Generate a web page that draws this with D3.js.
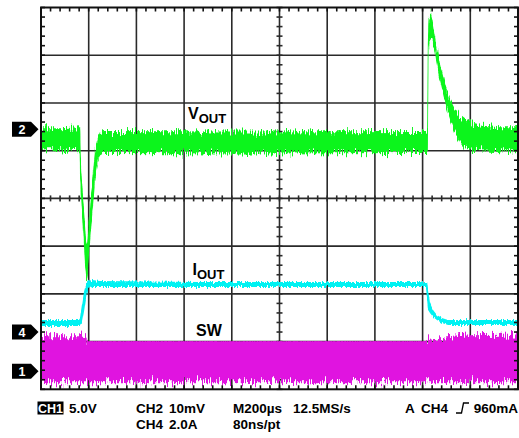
<!DOCTYPE html>
<html>
<head>
<meta charset="utf-8">
<script src="https://cdn.jsdelivr.net/npm/d3@7"></script>
<style>
  html, body { margin: 0; padding: 0; background: #fff; }
  svg { display: block; }
  text { font-family: "Liberation Sans", Arial, Helvetica, sans-serif; font-weight: bold; }
</style>
</head>
<body>
<svg id="scope" width="519" height="438"></svg>
<script>
// ---- Acquisition: 10 horizontal divisions at 200 µs/div, 8 vertical divisions ----
const timeRange = [0, 2000];      // µs across the screen
const timePerDiv = 200;           // µs
const minorPerDiv = 5;
const verticalDivs = 8;

// ---- CH2: output voltage, AC coupled (mV). Upper / lower edge of the noisy trace ----
const ch2Time  = [0, 80, 162, 164, 168, 172, 176, 180, 185, 189, 193, 197, 201, 206, 210, 214, 218, 222, 226, 231, 239, 247, 264, 800, 1614, 1619, 1622, 1625, 1629, 1635, 1641, 1648, 1656, 1665, 1673, 1686, 1698, 1715, 1736, 1757, 1778, 1799, 1841, 1925, 2000];
const ch2Upper = [0.2, 0.2, 0.4, 0.4, -7.5, -10.7, -13.8, -17.0, -20.1, -23.3, -24.3, -21.6, -19.1, -16.4, -13.8, -11.3, -9.0, -6.7, -4.8, -3.4, -1.7, -0.6, -0.4, -0.5, -0.4, -0.2, 18.7, 22.9, 23.7, 24.1, 22.9, 20.8, 18.2, 15.9, 13.8, 11.1, 8.6, 6.3, 4.2, 2.7, 1.9, 1.3, 0.8, 0.4, 0.4];
const ch2Lower = [-4.4, -4.4, -4.6, -10.7, -14.5, -17.6, -20.8, -24.3, -28.5, -31.2, -31.2, -29.1, -26.4, -23.7, -21.2, -18.4, -15.9, -13.4, -10.9, -8.6, -6.5, -5.5, -5.0, -5.1, -5.0, -5.0, -5.0, 16.6, 18.2, 18.7, 18.7, 17.2, 14.5, 12.2, 10.1, 7.3, 4.8, 2.1, -0.8, -2.7, -3.8, -4.2, -4.4, -4.6, -4.6];

// ---- CH4: output current (A) ----
const ch4Time  = [0, 159, 164, 172, 180, 189, 197, 214, 247, 667, 1614, 1619, 1623, 1631, 1644, 1660, 1681, 1707, 2000];
const ch4Upper = [0.50, 0.50, 0.59, 1.13, 1.68, 2.01, 2.14, 2.18, 2.14, 2.10, 2.10, 2.10, 1.76, 1.22, 0.92, 0.71, 0.59, 0.50, 0.50];
const ch4Lower = [0.25, 0.25, 0.25, 0.42, 0.84, 1.43, 1.80, 1.89, 1.89, 1.89, 1.89, 1.34, 0.92, 0.80, 0.63, 0.50, 0.38, 0.29, 0.29];

// ---- CH1: switch node (V) ----
const ch1Time  = [0, 159, 189, 197, 1614, 1631, 1702, 1799, 2000];
const ch1Upper = [3.67, 3.67, 3.56, 3.14, 3.14, 3.30, 3.56, 3.77, 3.83];
const ch1Lower = [-1.15, -1.15, -1.15, -1.15, -1.15, -1.15, -1.15, -1.15, -1.15];
// Heavy-load interval: the switch node top edge is clean here
const ch1QuietWindow = [197, 1614];

// ---- Channel settings ----
const channelIds       = [2, 4, 1];
const channelPerDiv    = [10, 2.0, 5.0];        // mV, A, V per division
const channelOffsetDiv = [1.45, -2.80, -3.62];  // ground reference, divisions from centre
const channelColors    = ["#0cf51c", "#00f2f2", "#e014e0"];

// ---- Readout text ----
const readoutRow1 = ["5.0V", "CH2", "10mV", "M200µs", "12.5MS/s", "A", "CH4", "960mA"];
const readoutRow2 = ["CH4", "2.0A", "80ns/pt"];

// ================= drawing =================
const svg = d3.select("#scope");
const plot = { left: 41, right: 518, top: 7.5, bottom: 389.3 };

const x = d3.scaleLinear().domain(timeRange).range([plot.left, plot.right]);
const yDiv = d3.scaleLinear().domain([-verticalDivs / 2, verticalDivs / 2]).range([plot.bottom, plot.top]);
const chScale = i => d3.scaleLinear()
  .domain([0, channelPerDiv[i]])
  .range([yDiv(channelOffsetDiv[i]), yDiv(channelOffsetDiv[i] + 1)]);
const y2 = chScale(0), y4 = chScale(1), y1 = chScale(2);

svg.append("rect").attr("width", 519).attr("height", 438).attr("fill", "#fff");

const defs = svg.append("defs");
defs.append("clipPath").attr("id", "plotClip")
  .append("rect")
  .attr("x", plot.left).attr("y", plot.top)
  .attr("width", plot.right - plot.left).attr("height", plot.bottom - plot.top);

// Jitter filter: displaces the trace edges vertically to give the sampled-noise fringe
function addNoise(id, scale, seed, fx, fy) {
  const f = defs.append("filter").attr("id", id)
    .attr("x", "-5%").attr("y", "-40%").attr("width", "110%").attr("height", "180%")
    .attr("color-interpolation-filters", "sRGB");
  f.append("feTurbulence").attr("type", "fractalNoise")
    .attr("baseFrequency", `${fx} ${fy}`).attr("numOctaves", 2).attr("seed", seed).attr("result", "noise");
  f.append("feColorMatrix").attr("in", "noise").attr("type", "matrix")
    .attr("values", "1 0 0 0 0  0 0 0 0 0.5  0 0 0 0 0  0 0 0 0 1").attr("result", "shift");
  f.append("feDisplacementMap").attr("in", "SourceGraphic").attr("in2", "shift")
    .attr("scale", scale).attr("xChannelSelector", "G").attr("yChannelSelector", "R");
}
addNoise("noiseCh2", 18, 3, 0.8, 0.07);
addNoise("noiseCh4", 6, 7, 0.8, 0.1);
addNoise("noiseCh1", 20, 11, 0.8, 0.07);

// ---- Graticule ----
const gridColor = "#2a2a2a";
const grid = svg.append("g").attr("stroke", gridColor).attr("stroke-width", 1.6);
const majorT = d3.range(timeRange[0] + timePerDiv, timeRange[1], timePerDiv);
const majorD = d3.range(-verticalDivs / 2 + 1, verticalDivs / 2);
grid.selectAll(".vg").data(majorT).join("line")
  .attr("x1", d => x(d)).attr("x2", d => x(d))
  .attr("y1", plot.top).attr("y2", plot.bottom);
grid.selectAll(".hg").data(majorD).join("line")
  .attr("x1", plot.left).attr("x2", plot.right)
  .attr("y1", d => yDiv(d)).attr("y2", d => yDiv(d));

const minorT = d3.range(timeRange[0], timeRange[1] + 1e-6, timePerDiv / minorPerDiv);
const minorD = d3.range(-verticalDivs / 2, verticalDivs / 2 + 1e-6, 1 / minorPerDiv);
const tCenter = (timeRange[0] + timeRange[1]) / 2;

// centre-axis ticks
grid.selectAll(".cth").data(minorT).join("line")
  .attr("x1", d => x(d)).attr("x2", d => x(d))
  .attr("y1", yDiv(0) - 3).attr("y2", yDiv(0) + 3);
grid.selectAll(".ctv").data(minorD).join("line")
  .attr("x1", x(tCenter) - 3).attr("x2", x(tCenter) + 3)
  .attr("y1", d => yDiv(d)).attr("y2", d => yDiv(d));

// ---- Traces ----
const traces = svg.append("g").attr("clip-path", "url(#plotClip)");

function band(time, up, lo, yScale) {
  const rows = time.map((t, i) => ({ t, u: up[i], l: lo[i] }));
  return d3.area().x(d => x(d.t)).y0(d => yScale(d.l)).y1(d => yScale(d.u))(rows);
}

// CH1 switch node
const swClip = defs.append("clipPath").attr("id", "swClip");
const quietTop = y1(d3.max(ch1Upper.filter((v, i) => ch1Time[i] >= ch1QuietWindow[0] && ch1Time[i] <= ch1QuietWindow[1])));
swClip.append("rect").attr("x", plot.left).attr("y", plot.top)
  .attr("width", x(ch1QuietWindow[0]) - plot.left).attr("height", plot.bottom - plot.top);
swClip.append("rect").attr("x", x(ch1QuietWindow[0])).attr("y", quietTop)
  .attr("width", x(ch1QuietWindow[1]) - x(ch1QuietWindow[0])).attr("height", plot.bottom - quietTop);
swClip.append("rect").attr("x", x(ch1QuietWindow[1])).attr("y", plot.top)
  .attr("width", plot.right - x(ch1QuietWindow[1])).attr("height", plot.bottom - plot.top);

const quietIdx = ch1Time.map((t, i) => i).filter(i => ch1Time[i] >= ch1QuietWindow[0] && ch1Time[i] <= ch1QuietWindow[1]);
traces.append("path")
  .attr("d", band(quietIdx.map(i => ch1Time[i]), quietIdx.map(i => ch1Upper[i]),
                  quietIdx.map(i => (ch1Upper[i] + ch1Lower[i]) / 2), y1))
  .attr("fill", channelColors[2]);
traces.append("g").attr("clip-path", "url(#swClip)")
  .append("path")
  .attr("d", band(ch1Time, ch1Upper, ch1Lower, y1))
  .attr("fill", channelColors[2])
  .attr("filter", "url(#noiseCh1)");

// CH4 output current
traces.append("path")
  .attr("d", band(ch4Time, ch4Upper, ch4Lower, y4))
  .attr("fill", channelColors[1])
  .attr("filter", "url(#noiseCh4)");

// CH2 output voltage
traces.append("path")
  .attr("d", band(ch2Time, ch2Upper, ch2Lower, y2))
  .attr("fill", channelColors[0])
  .attr("filter", "url(#noiseCh2)");

// ---- Border and edge ticks ----
const edge = svg.append("g").attr("stroke", "#111").attr("stroke-width", 1.6);
edge.append("rect")
  .attr("x", plot.left).attr("y", plot.top)
  .attr("width", plot.right - plot.left).attr("height", plot.bottom - plot.top)
  .attr("fill", "none").attr("stroke-width", 2);
edge.selectAll(".tt").data(minorT).join("line")
  .attr("x1", d => x(d)).attr("x2", d => x(d)).attr("y1", plot.top).attr("y2", plot.top + 4);
edge.selectAll(".tb").data(minorT).join("line")
  .attr("x1", d => x(d)).attr("x2", d => x(d)).attr("y1", plot.bottom).attr("y2", plot.bottom - 4);
edge.selectAll(".tl").data(minorD).join("line")
  .attr("x1", plot.left).attr("x2", plot.left + 4).attr("y1", d => yDiv(d)).attr("y2", d => yDiv(d));
edge.selectAll(".tr").data(minorD).join("line")
  .attr("x1", plot.right).attr("x2", plot.right - 4).attr("y1", d => yDiv(d)).attr("y2", d => yDiv(d));

// ---- Trace names ----
function subLabel(x0, yBase, main, sub) {
  const t = svg.append("text").attr("x", x0).attr("y", yBase).attr("font-size", 16).attr("fill", "#000");
  t.append("tspan").text(main);
  if (sub) t.append("tspan").attr("font-size", 13).attr("dy", 4).text(sub);
}
subLabel(188, 119, "V", "OUT");
subLabel(192.5, 275, "I", "OUT");
subLabel(196, 335.5, "SW", null);

// ---- Channel ground markers ----
const markers = svg.append("g");
channelIds.forEach((id, i) => {
  const my = yDiv(channelOffsetDiv[i]);
  markers.append("path")
    .attr("d", `M12,${my - 7.5}H31L38.5,${my}L31,${my + 7.5}H12Z`)
    .attr("fill", "#000");
  markers.append("text")
    .attr("x", 22).attr("y", my + 4.5).attr("text-anchor", "middle")
    .attr("font-size", 12.5).attr("fill", "#fff").text(id);
});

// ---- Readout ----
const ro = svg.append("g").attr("font-size", 13.5).attr("fill", "#000");
const row1Y = 413, row2Y = 428.5;
ro.append("rect").attr("x", 37.5).attr("y", 401.5).attr("width", 26).attr("height", 13).attr("fill", "#000");
ro.append("text").attr("x", 50.5).attr("y", row1Y).attr("text-anchor", "middle")
  .attr("fill", "#fff").attr("font-size", 12.5).text("CH1");
const row1X = [69, 136, 169, 233, 293, 405, 421, 518];
readoutRow1.forEach((s, i) => {
  ro.append("text").attr("x", row1X[i]).attr("y", row1Y)
    .attr("text-anchor", i === readoutRow1.length - 1 ? "end" : "start").text(s);
});
// rising-edge trigger symbol
ro.append("path").attr("d", `M456,${row1Y}H461.5L463.5,${row1Y - 10}H469`)
  .attr("fill", "none").attr("stroke", "#000").attr("stroke-width", 1.3);
const row2X = [136, 169, 233];
readoutRow2.forEach((s, i) => {
  ro.append("text").attr("x", row2X[i]).attr("y", row2Y).text(s);
});
</script>
</body>
</html>
